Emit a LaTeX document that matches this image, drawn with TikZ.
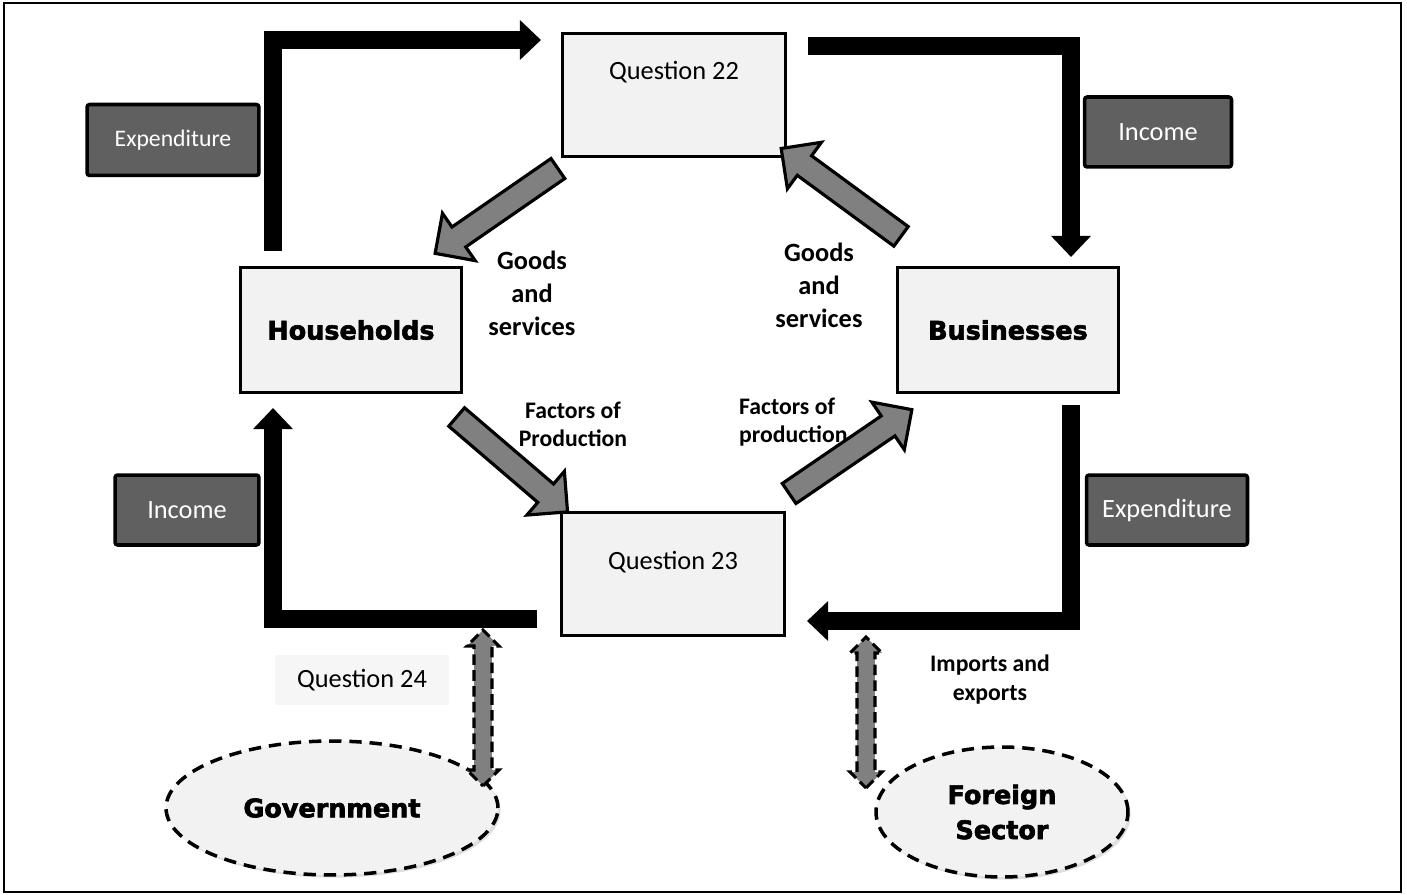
\documentclass[tikz,border=0pt]{standalone}
\usepackage{fontspec}
\setmainfont{Carlito}
\newfontfamily\heavyfont[BoldFeatures={FakeBold=2.5}]{DejaVu Sans}
\usetikzlibrary{arrows.meta,calc,shapes.arrows,shapes.geometric,shadows}
\definecolor{boxfill}{HTML}{F2F2F2}
\definecolor{tagfill}{HTML}{606060}
\definecolor{arrowfill}{HTML}{808080}

\begin{document}
\begin{tikzpicture}[x=0.02cm,y=-0.02cm,
  sector/.style={draw,line width=1.7pt,fill=boxfill,minimum width=4.44cm,minimum height=2.5cm,
    font=\heavyfont\bfseries\fontsize{14.5}{17}\selectfont},
  qbox/.style={draw,line width=1.7pt,fill=boxfill,minimum width=4.46cm,minimum height=2.48cm,
    font=\fontsize{15}{18}\selectfont},
  tag/.style={draw,line width=2pt,fill=tagfill,rounded corners=1.5pt,minimum height=1.4cm,
    text=white,font=\fontsize{15}{18}\selectfont},
  lbl/.style={align=center,font=\bfseries\fontsize{15}{18.7}\selectfont},
  outer/.style={ellipse,draw,line width=2pt,dash pattern=on 7pt off 4.5pt,fill=boxfill,
    drop shadow={shadow xshift=1.5pt,shadow yshift=-1.5pt,opacity=0.25},
    font=\heavyfont\bfseries\fontsize{14.5}{20}\selectfont},
  flow/.style={line width=10pt,line join=miter,-{Triangle[width=22pt,length=12pt]}},
  blockarrow/.style={single arrow,draw,line width=1.8pt,fill=arrowfill,inner sep=6pt,
    single arrow head extend=9.5pt,sloped,allow upside down},
  dblarrow/.style={double arrow,draw,line width=1.8pt,dash pattern=on 6pt off 3pt,fill=arrowfill,
    inner sep=4.2pt,double arrow head extend=4pt,sloped,allow upside down}]

  \useasboundingbox (0,0) rectangle (1407,895);
  \draw[line width=1.1pt] (4,3) rectangle (1401,892);

  % main boxes
  \node[qbox,text depth=28pt] (q22) at (674,95) {Question 22};
  \node[sector] (hh) at (351,330) {Households};
  \node[sector] (bus) at (1008,330) {Businesses};
  \node[qbox,text depth=15pt] (q23) at (673,574) {Question 23};
  \node[fill=boxfill!70,minimum width=3.5cm,minimum height=1cm,font=\fontsize{15}{18}\selectfont] (q24) at (362,680) {Question 24};

  % money tags
  \node[tag,minimum width=3.44cm,minimum height=1.42cm,font=\fontsize{13.5}{16}\selectfont] (exp1) at (173,140) {Expenditure};
  \node[tag,minimum width=2.94cm] (inc1) at (1158,132) {Income};
  \node[tag,minimum width=2.88cm] (inc2) at (187,510) {Income};
  \node[tag,minimum width=3.22cm] (exp2) at (1167,510) {Expenditure};

  % flow labels
  \node[lbl] (gs1) at (532,293) {Goods\\and\\services};
  \node[lbl] (gs2) at (819,285) {Goods\\and\\services};
  \node[lbl,font=\bfseries\fontsize{13.5}{16}\selectfont] (fp1) at (573,424) {Factors of\\Production};
  \node[lbl,align=left,anchor=west,font=\bfseries\fontsize{13.5}{16}\selectfont] (fp2) at (733,422) {Factors of\\production};
  \node[lbl,font=\bfseries\fontsize{13.5}{16.5}\selectfont] (ie) at (990,680) {Imports and\\exports};

  % outside sectors
  \node[outer,minimum width=6.64cm,minimum height=2.68cm] (gov) at (332,808) {Government};
  \node[outer,minimum width=5.04cm,minimum height=2.6cm,align=center] (fs) at (1002,812) {Foreign\\Sector};

  % money flows
  \coordinate (m1a) at (273,251);
  \coordinate (m1b) at (541,40);
  \draw[flow] (m1a) |- (m1b);
  \coordinate (m2a) at (808,46);
  \coordinate (m2b) at (1071,257);
  \draw[flow] (m2a) -| (m2b);
  \coordinate (m3a) at (1071,405);
  \coordinate (m3b) at (807,621);
  \draw[flow] (m3a) |- (m3b);
  \coordinate (m4a) at (537,619);
  \coordinate (m4b) at (273,408);
  \draw[flow] (m4a) -| (m4b);

  % real flows
  \coordinate (r1a) at (563,165);
  \coordinate (r1b) at (440,250);
  \path let \p1=($(r1b)-(r1a)$), \n1={veclen(\x1,\y1)} in
    (r1a) -- node[blockarrow,minimum height=\n1] {} (r1b);
  \coordinate (r2a) at (906,240);
  \coordinate (r2b) at (786,152);
  \path let \p1=($(r2b)-(r2a)$), \n1={veclen(\x1,\y1)} in
    (r2a) -- node[blockarrow,minimum height=\n1] {} (r2b);
  \coordinate (r3a) at (452,413);
  \coordinate (r3b) at (563,508);
  \path let \p1=($(r3b)-(r3a)$), \n1={veclen(\x1,\y1)} in
    (r3a) -- node[blockarrow,minimum height=\n1] {} (r3b);
  \coordinate (r4a) at (784,497);
  \coordinate (r4b) at (907,413);
  \path let \p1=($(r4b)-(r4a)$), \n1={veclen(\x1,\y1)} in
    (r4a) -- node[blockarrow,minimum height=\n1] {} (r4b);

  % leakages and injections
  \coordinate (d1a) at (483,630);
  \coordinate (d1b) at (483,786);
  \path let \p1=($(d1b)-(d1a)$), \n1={veclen(\x1,\y1)} in
    (d1a) -- node[dblarrow,minimum height=\n1] {} (d1b);
  \coordinate (d2a) at (866,637);
  \coordinate (d2b) at (866,788);
  \path let \p1=($(d2b)-(d2a)$), \n1={veclen(\x1,\y1)} in
    (d2a) -- node[dblarrow,minimum height=\n1] {} (d2b);
\end{tikzpicture}
\end{document}
